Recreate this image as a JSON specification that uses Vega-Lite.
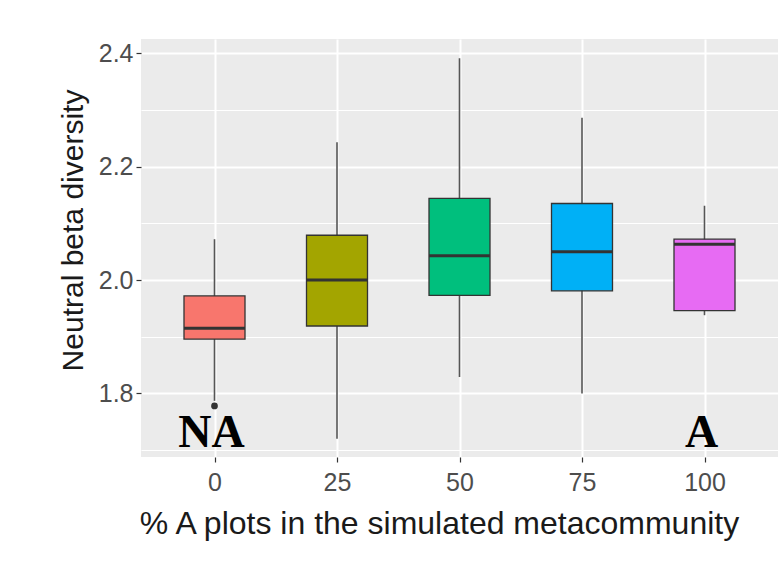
{
  "$schema": "https://vega.github.io/schema/vega-lite/v6.json",
  "autosize": {"type": "none"},
  "width": 637,
  "height": 418,
  "padding": {"left": 141, "top": 39, "right": 4, "bottom": 120},
  "background": "white",
  "config": {
    "view": {"stroke": null, "fill": "#EBEBEB"},
    "font": "Liberation Sans"
  },
  "datasets": {
    "boxes": [
      {"pct": 0, "lower": 1.787, "q1": 1.896, "median": 1.915, "q3": 1.972, "upper": 2.072},
      {"pct": 25, "lower": 1.720, "q1": 1.919, "median": 2.000, "q3": 2.079, "upper": 2.243},
      {"pct": 50, "lower": 1.829, "q1": 1.973, "median": 2.043, "q3": 2.144, "upper": 2.391},
      {"pct": 75, "lower": 1.800, "q1": 1.981, "median": 2.050, "q3": 2.135, "upper": 2.286},
      {"pct": 100, "lower": 1.938, "q1": 1.946, "median": 2.063, "q3": 2.072, "upper": 2.131}
    ],
    "outliers": [{"pct": 0, "value": 1.778}],
    "labels": [
      {"pct": 0, "y": 1.705, "label": "NA"},
      {"pct": 100, "y": 1.705, "label": "A"}
    ]
  },
  "layer": [
    {
      "data": {"name": "boxes"},
      "mark": {"type": "rule", "color": "#555555", "strokeWidth": 1.6},
      "encoding": {
        "x": {
          "field": "pct", "type": "quantitative",
          "scale": {"domain": [-15, 115], "nice": false, "zero": false, "padding": 0},
          "axis": {
            "values": [0, 25, 50, 75, 100],
            "title": "% A plots in the simulated metacommunity",
            "titleFontSize": 32, "titleFontWeight": "normal", "titleColor": "#1a1a1a",
            "titlePadding": 13, "titleX": 298, "titleAnchor": "middle",
            "labelFontSize": 25, "labelColor": "#4D4D4D", "labelPadding": 8,
            "domain": false, "tickColor": "#333333", "tickSize": 5, "tickWidth": 1.2,
            "grid": true, "gridColor": "white", "gridWidth": 2
          }
        },
        "y": {
          "field": "lower", "type": "quantitative",
          "scale": {"domain": [1.688, 2.425], "nice": false, "zero": false, "padding": 0},
          "axis": {
            "values": [1.7, 1.8, 1.9, 2.0, 2.1, 2.2, 2.3, 2.4],
            "labelExpr": "round(datum.value*10) % 2 == 0 ? format(datum.value, '.1f') : ''",
            "title": "Neutral beta diversity",
            "titleFontSize": 30, "titleFontWeight": "normal", "titleColor": "#1a1a1a",
            "titlePadding": 10, "titleY": 191, "titleAnchor": "middle",
            "labelFontSize": 25, "labelColor": "#4D4D4D", "labelPadding": 3,
            "domain": false, "tickColor": "#333333", "tickSize": 5, "tickWidth": 1.2,
            "tickOpacity": {"condition": {"test": "round(datum.value*10) % 2 == 1", "value": 0}, "value": 1},
            "grid": true, "gridColor": "white",
            "gridWidth": {"condition": {"test": "round(datum.value*10) % 2 == 1", "value": 1}, "value": 2}
          }
        },
        "y2": {"field": "upper"}
      }
    },
    {
      "data": {"name": "boxes"},
      "mark": {"type": "bar", "width": 61, "stroke": "#333333", "strokeWidth": 1.3},
      "encoding": {
        "x": {"field": "pct", "type": "quantitative"},
        "y": {"field": "q1", "type": "quantitative"},
        "y2": {"field": "q3"},
        "color": {
          "field": "pct", "type": "nominal",
          "scale": {"domain": [0, 25, 50, 75, 100], "range": ["#F8766D", "#A3A500", "#00BF7D", "#00B0F6", "#E76BF3"]},
          "legend": null
        }
      }
    },
    {
      "data": {"name": "boxes"},
      "mark": {"type": "tick", "orient": "horizontal", "size": 61, "thickness": 3, "color": "#333333", "opacity": 1},
      "encoding": {
        "x": {"field": "pct", "type": "quantitative"},
        "y": {"field": "median", "type": "quantitative"}
      }
    },
    {
      "data": {"name": "outliers"},
      "mark": {"type": "circle", "size": 45, "color": "#333333", "opacity": 1},
      "encoding": {
        "x": {"field": "pct", "type": "quantitative"},
        "y": {"field": "value", "type": "quantitative"}
      }
    },
    {
      "data": {"name": "labels"},
      "mark": {"type": "text", "font": "Liberation Serif", "fontWeight": "bold", "fontSize": 46, "color": "black", "baseline": "alphabetic", "align": "center"},
      "encoding": {
        "x": {"field": "pct", "type": "quantitative"},
        "y": {"field": "y", "type": "quantitative"},
        "text": {"field": "label"},
        "xOffset": {"condition": {"test": "datum.label == 'A'", "value": 7}, "value": -3}
      }
    }
  ]
}
